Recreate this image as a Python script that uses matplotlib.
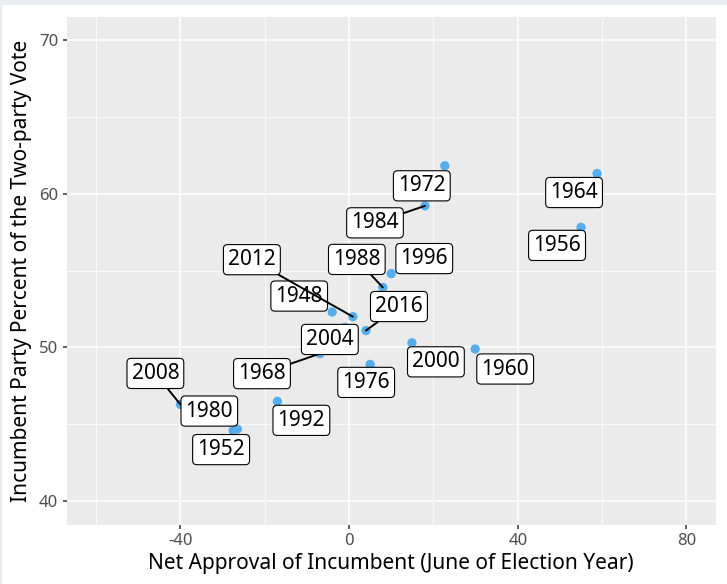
import matplotlib
matplotlib.use("Agg")
import matplotlib.pyplot as plt
from matplotlib.patches import Rectangle
from matplotlib.ticker import MultipleLocator

# election years, net approval (June), incumbent party two-party vote share
years = [1948, 1952, 1956, 1960, 1964, 1968, 1972, 1976, 1980,
         1984, 1988, 1992, 1996, 2000, 2004, 2008, 2012, 2016]
approval = [-4.0, -27.5, 55.0, 29.9, 58.8, -6.9, 22.7, 5.0, -26.5,
            18.0, 8.0, -17.0, 10.0, 14.9, -1.0, -40.0, 0.9, 4.0]
vote = [52.3, 44.6, 57.8, 49.9, 61.3, 49.6, 61.8, 48.9, 44.7,
        59.2, 53.9, 46.5, 54.8, 50.3, 51.3, 46.3, 52.0, 51.1]

# where the repelled labels ended up (pixel offsets from the point)
label_offsets = {
    1948: (-33, 16), 1952: (-12, -19), 1956: (-24, -18), 1960: (30, -20),
    1964: (-23, -19), 1968: (-58, -20), 1972: (-23, -20), 1976: (-4, -18),
    1980: (-28, 18), 1984: (-50, -17), 1988: (-26, 28), 1992: (24, -19),
    1996: (33, 15), 2000: (24, -19), 2004: (-15, -12), 2008: (-25, 31),
    2012: (-101, 57), 2016: (33, 24),
}
with_segment = [1968, 1984, 1988, 2008, 2012, 2016]

plt.rcParams['font.family'] = ['Noto Sans', 'DejaVu Sans']
plt.rcParams['axes.unicode_minus'] = False

fig = plt.figure(figsize=(7.27, 5.84), dpi=100, facecolor='#E9EDEF')
fig.patches.append(Rectangle((2 / 727, 0), 1, 579 / 584, transform=fig.transFigure,
                             facecolor='white', edgecolor='none', zorder=-10))

ax = fig.add_axes([66.5 / 727, 59.5 / 584, 649.5 / 727, 508 / 584])
ax.set_facecolor('#EBEBEB')
ax.set_xlim(-67, 87)
ax.set_ylim(38.5, 71.5)
ax.xaxis.set_major_locator(MultipleLocator(40))
ax.xaxis.set_minor_locator(MultipleLocator(20))
ax.yaxis.set_major_locator(MultipleLocator(10))
ax.yaxis.set_minor_locator(MultipleLocator(5))
ax.grid(which='major', color='white', lw=1.1)
ax.grid(which='minor', color='white', lw=0.55)
ax.set_axisbelow(True)
for s in ax.spines.values():
    s.set_visible(False)
ax.tick_params(which='major', length=3, width=1.1, color='#333333',
               labelsize=12, labelcolor='#4D4D4D', pad=3)
ax.tick_params(which='minor', length=0)

ax.scatter(approval, vote, s=45, color='#56ADEB', edgecolors='none', zorder=2)

for yr, xv, yv in zip(years, approval, vote):
    dx, dy = label_offsets[yr]
    kw = {}
    if yr in with_segment:
        kw['arrowprops'] = dict(arrowstyle='-', color='black', lw=1.4,
                                shrinkA=0, shrinkB=0)
    ax.annotate(str(yr), (xv, yv), xytext=(dx, dy), textcoords='offset pixels',
                ha='center', va='center', fontsize=15, color='black', zorder=3,
                bbox=dict(boxstyle='round,pad=0.22,rounding_size=0.2',
                          fc='white', ec='black', lw=0.8), **kw)

ax.set_xlabel('Net Approval of Incumbent (June of Election Year)', fontsize=15,
              labelpad=3)
ax.set_ylabel('Incumbent Party Percent of the Two-party Vote', fontsize=15,
              labelpad=5)

fig.savefig('out.png', dpi=100, facecolor=fig.get_facecolor())
